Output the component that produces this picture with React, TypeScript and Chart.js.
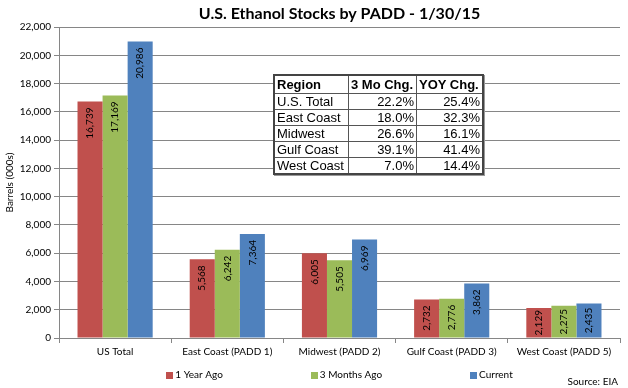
import { useEffect, useRef } from "react";
import { Chart, registerables } from "chart.js";

Chart.register(...registerables);

const categories = [
  "US Total",
  "East Coast (PADD 1)",
  "Midwest (PADD 2)",
  "Gulf Coast (PADD 3)",
  "West Coast (PADD 5)",
];
const seriesNames = ["1 Year Ago", "3 Months Ago", "Current"];
const yearAgo = [16739, 5568, 6005, 2732, 2129];
const threeMonthsAgo = [17169, 6242, 5505, 2776, 2275];
const current = [20986, 7364, 6969, 3862, 2435];
const seriesColors = ["#C0504D", "#9BBB59", "#4F81BD"];

const yMin = 0;
const yMax = 22000;
const yStep = 2000;

const tableHeader = ["Region", "3 Mo Chg.", "YOY Chg."];
const tableRegions = ["U.S. Total", "East Coast", "Midwest", "Gulf Coast", "West Coast"];
const threeMoChg = ["22.2%", "18.0%", "26.6%", "39.1%", "7.0%"];
const yoyChg = ["25.4%", "32.3%", "16.1%", "41.4%", "14.4%"];

const FONT = "Lato, 'Open Sans', sans-serif";

const barLabels = {
  id: "barLabels",
  afterDatasetsDraw(chart: any) {
    const ctx = chart.ctx;
    ctx.save();
    ctx.font = `10px ${FONT}`;
    ctx.fillStyle = "#000";
    chart.data.datasets.forEach((ds: any, i: number) => {
      const meta = chart.getDatasetMeta(i);
      meta.data.forEach((bar: any, j: number) => {
        const v = ds.data[j] as number;
        const txt = v.toLocaleString("en-US");
        const w = ctx.measureText(txt).width;
        const h = bar.base - bar.y;
        const off = Math.min(6, Math.max(0, (h - w) / 2));
        ctx.save();
        ctx.translate(bar.x, bar.y + off);
        ctx.rotate(-Math.PI / 2);
        ctx.textAlign = "right";
        ctx.textBaseline = "middle";
        ctx.fillText(txt, 0, 0);
        ctx.restore();
      });
    });
    ctx.restore();
  },
};

const customLegend = {
  id: "customLegend",
  afterDraw(chart: any) {
    const ctx = chart.ctx;
    const area = chart.chartArea;
    ctx.save();
    ctx.font = `10px ${FONT}`;
    ctx.textBaseline = "middle";
    ctx.textAlign = "left";
    const box = 7;
    const gapBoxText = 2;
    const gapItems = 88;
    const items = chart.data.datasets.map((ds: any) => ({
      label: ds.label as string,
      color: ds.backgroundColor as string,
      w: box + gapBoxText + ctx.measureText(ds.label).width,
    }));
    const total = items.reduce((s: number, it: any) => s + it.w, 0) + gapItems * (items.length - 1);
    let x = (area.left + area.right) / 2 - total / 2;
    const y = 375;
    items.forEach((it: any) => {
      ctx.fillStyle = it.color;
      ctx.fillRect(Math.round(x), y - 3, box, box);
      ctx.fillStyle = "#000";
      ctx.fillText(it.label, x + box + gapBoxText, y);
      x += it.w + gapItems;
    });
    ctx.textAlign = "right";
    ctx.fillText("Source: EIA", 618, 382);
    ctx.restore();
  },
};

export default function App() {
  const ref = useRef<HTMLCanvasElement>(null);

  useEffect(() => {
    document.body.style.margin = "0";
    const canvas = ref.current;
    if (!canvas) return;
    const data = [yearAgo, threeMonthsAgo, current];
    const chart = new Chart(canvas, {
      type: "bar",
      data: {
        labels: categories,
        datasets: seriesNames.map((name, i) => ({
          label: name,
          data: data[i],
          backgroundColor: seriesColors[i],
          borderWidth: 0,
          barPercentage: 1,
          categoryPercentage: 0.67,
        })),
      },
      options: {
        responsive: false,
        animation: false,
        layout: { padding: { left: 0, right: 8, top: 0, bottom: 28 } },
        plugins: {
          legend: { display: false },
          tooltip: { enabled: false },
          title: {
            display: true,
            text: "U.S. Ethanol Stocks by PADD - 1/30/15",
            fullSize: false,
            color: "#000",
            font: { family: FONT, size: 16, weight: "bold" },
            padding: { top: 4, bottom: 4 },
          },
        },
        scales: {
          x: {
            grid: {
              drawOnChartArea: false,
              drawTicks: true,
              tickLength: 5,
              color: "#868686",
            },
            border: { display: true, color: "#868686" },
            ticks: {
              color: "#000",
              font: { family: FONT, size: 10 },
              maxRotation: 0,
              autoSkip: false,
              padding: 3,
            },
            afterFit: (scale: any) => {
              scale.height = 22;
            },
          },
          y: {
            min: yMin,
            max: yMax,
            ticks: {
              stepSize: yStep,
              color: "#000",
              font: { family: FONT, size: 10 },
              padding: 3,
              callback: (v: any) => Number(v).toLocaleString("en-US"),
            },
            grid: { color: "#868686", tickLength: 5 },
            border: { display: true, color: "#868686" },
            title: {
              display: true,
              text: "Barrels (000s)",
              color: "#000",
              font: { family: FONT, size: 10 },
              padding: { top: 4, bottom: 4 },
            },
            afterFit: (scale: any) => {
              scale.width = 59;
            },
          },
        },
      },
      plugins: [barLabels, customLegend],
    });
    return () => chart.destroy();
  }, []);

  const cell: any = {
    border: "1px solid #555",
    padding: "0 2px",
    lineHeight: "15px",
    height: "15px",
    whiteSpace: "nowrap",
  };
  const widths = [69, 63, 61];

  return (
    <div style={{ position: "relative", width: 628, height: 388, background: "#fff" }}>
      <canvas ref={ref} width={628} height={388} />
      <table
        style={{
          position: "absolute",
          left: 273,
          top: 74,
          borderCollapse: "collapse",
          border: "2px solid #444",
          boxShadow: "1px 1px 0 #999",
          background: "#fff",
          fontFamily: "'Liberation Sans', Arial, sans-serif",
          fontSize: 13,
          color: "#000",
        }}
      >
        <tbody>
          <tr>
            {tableHeader.map((h, i) => (
              <th
                key={h}
                style={{ ...cell, lineHeight: "17px", height: "17px", textAlign: "left", width: widths[i] }}
              >
                {h}
              </th>
            ))}
          </tr>
          {tableRegions.map((r, i) => (
            <tr key={r}>
              <td style={{ ...cell, textAlign: "left" }}>{r}</td>
              <td style={{ ...cell, textAlign: "right" }}>{threeMoChg[i]}</td>
              <td style={{ ...cell, textAlign: "right" }}>{yoyChg[i]}</td>
            </tr>
          ))}
        </tbody>
      </table>
    </div>
  );
}
